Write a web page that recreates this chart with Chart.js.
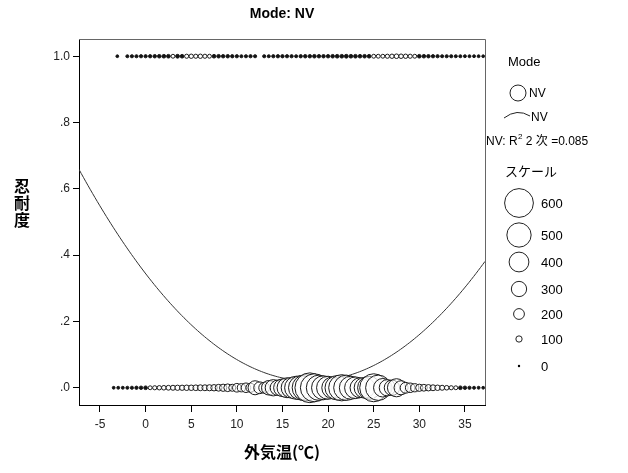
<!DOCTYPE html>
<html>
<head>
<meta charset="utf-8">
<script src="https://cdn.jsdelivr.net/npm/chart.js@4.4.1/dist/chart.umd.min.js"></script>
<style>
  html, body { margin: 0; padding: 0; background: #fff; }
  #wrap { width: 628px; height: 473px; position: relative; }
</style>
</head>
<body>
<div id="wrap"><canvas id="chart" width="628" height="473"></canvas></div>
<script>
// ticks
const xTicks = [-5, 0, 5, 10, 15, 20, 25, 30, 35];
const yTicks = [0, 0.2, 0.4, 0.6, 0.8, 1.0];
const yTickLabels = ['.0', '.2', '.4', '.6', '.8', '1.0'];

// 忍耐度 = 0 の行 (外気温と件数)
const bottomTemps = [-3.5, -3, -2.5, -2, -1.5, -1, -0.5, 0, 0.5, 1, 1.5, 2, 2.5, 3, 3.5, 4, 4.5, 5, 5.5, 6,
  6.5, 7, 7.5, 8, 8.5, 9, 9.5, 10, 10.5, 11, 11.5, 12, 12.5, 13, 13.5, 14, 14.5, 15, 15.5, 16,
  16.5, 17, 17.5, 18, 18.5, 19, 19.5, 20, 20.5, 21, 21.5, 22, 22.5, 23, 23.5, 24, 24.5, 25, 25.5, 26,
  26.5, 27, 27.5, 28, 28.5, 29, 29.5, 30, 30.5, 31, 31.5, 32, 32.5, 33, 33.5, 34, 34.5, 35, 35.5, 36,
  36.5, 37];
const bottomCounts = [0, 2, 3, 5, 8, 12, 15, 20, 25, 30, 35, 40, 45, 50, 55, 55, 60, 60, 65, 70,
  70, 75, 80, 90, 100, 110, 95, 130, 120, 150, 140, 250, 200, 180, 260, 300, 280, 330, 380, 400,
  450, 480, 520, 600, 560, 500, 470, 450, 420, 480, 520, 500, 450, 420, 380, 400, 450, 560, 500, 350,
  300, 280, 340, 250, 180, 150, 120, 100, 90, 80, 70, 60, 50, 40, 30, 25, 20, 15, 10, 5,
  3, 0];

// 忍耐度 = 1 の行
const topTemps = [-3.1, -2, -1.5, -1, -0.5, 0, 0.5, 1, 1.5, 2, 2.5, 3, 3.5, 4, 4.5, 5, 5.5, 6, 6.5, 7,
  7.5, 8, 8.5, 9, 9.5, 10, 10.5, 11, 11.5, 12, 13, 13.5, 14, 14.5, 15, 15.5, 16, 16.5, 17, 17.5,
  18, 18.5, 19, 19.5, 20, 20.5, 21, 21.5, 22, 22.5, 23, 23.5, 24, 24.5, 25, 25.5, 26, 26.5, 27, 27.5,
  28, 28.5, 29, 29.5, 30, 30.5, 31, 31.5, 32, 32.5, 33, 33.5, 34, 34.5, 35, 35.5, 36, 36.5, 37];
const topCounts = [0, 5, 8, 8, 10, 10, 12, 15, 18, 20, 20, 25, 22, 20, 30, 35, 30, 35, 30, 25,
  20, 18, 15, 15, 12, 10, 6, 8, 10, 8, 8, 6, 10, 12, 12, 10, 10, 6, 12, 15,
  15, 18, 15, 15, 15, 18, 20, 20, 22, 20, 20, 18, 18, 20, 25, 25, 25, 30, 35, 40,
  38, 35, 30, 25, 20, 18, 15, 12, 10, 6, 8, 8, 5, 5, 3, 3, 2, 2, 0];

// 2 次回帰 (R2 = 0.085)
const fitA = 0.00099, fitH = 18.1, fitK = 0.02;
const xMin = -7.3, xMax = 37.2;

// 凡例のスケール
const scaleValues = [600, 500, 400, 300, 200, 100, 0];

function sizeToRadius(v) {
  return 1.4 + 0.0225 * v;
}

const fontStack = '"Liberation Sans", Arial, "Noto Sans CJK JP", sans-serif';

const bubbleData = [];
bottomTemps.forEach((t, i) => bubbleData.push({ x: t, y: 0, r: sizeToRadius(bottomCounts[i]) }));
topTemps.forEach((t, i) => bubbleData.push({ x: t, y: 1, r: sizeToRadius(topCounts[i]) }));

const curveData = [];
for (let t = xMin; t <= xMax + 0.001; t += 0.25) {
  curveData.push({ x: t, y: fitA * (t - fitH) * (t - fitH) + fitK });
}

// タイトル・凡例・枠
const decorations = {
  id: 'decorations',
  afterDraw(chart) {
    const ctx = chart.ctx;
    const a = chart.chartArea;
    ctx.save();

    // 枠 (上・右)
    ctx.strokeStyle = '#666';
    ctx.lineWidth = 1;
    ctx.beginPath();
    ctx.moveTo(a.left, a.top + 0.5);
    ctx.lineTo(a.right + 0.5, a.top + 0.5);
    ctx.lineTo(a.right + 0.5, a.bottom);
    ctx.stroke();

    ctx.fillStyle = '#000';
    ctx.textBaseline = 'middle';

    // タイトル
    ctx.textAlign = 'center';
    ctx.font = 'bold 14px ' + fontStack;
    ctx.fillText('Mode: NV', (a.left + a.right) / 2, 14);

    // 軸タイトル
    ctx.font = 'bold 16px "Noto Sans CJK JP", sans-serif';
    ctx.fillText('外気温(℃)', (a.left + a.right) / 2, 452);
    ['忍', '耐', '度'].forEach((c, i) => ctx.fillText(c, 22, 186 + i * 17));

    // 凡例
    ctx.textAlign = 'left';
    ctx.font = '13px ' + fontStack;
    ctx.fillText('Mode', 508, 62);

    ctx.strokeStyle = '#222';
    ctx.beginPath();
    ctx.arc(518, 93, 8, 0, Math.PI * 2);
    ctx.stroke();
    ctx.font = '12px ' + fontStack;
    ctx.fillText('NV', 529, 94);

    ctx.beginPath();
    ctx.moveTo(504, 118);
    ctx.quadraticCurveTo(517, 108, 530, 116);
    ctx.stroke();
    ctx.fillText('NV', 531, 118);

    ctx.fillText('NV: R', 486, 142);
    let w = ctx.measureText('NV: R').width;
    ctx.font = '8px ' + fontStack;
    ctx.fillText('2', 486 + w + 0.5, 137);
    const w2 = ctx.measureText('2').width;
    ctx.font = '12px ' + fontStack;
    ctx.fillText(' 2 次 =0.085', 486 + w + w2 + 0.5, 142);

    ctx.font = '13px "Noto Sans CJK JP", sans-serif';
    ctx.fillText('スケール', 505, 171);

    const rowsY = [203, 235, 262, 289, 314, 339, 366];
    ctx.font = '13px ' + fontStack;
    scaleValues.forEach((v, i) => {
      const r = sizeToRadius(v) - 0.5;
      ctx.beginPath();
      ctx.arc(519, rowsY[i], Math.max(r, 1.2), 0, Math.PI * 2);
      if (v === 0) {
        ctx.fillStyle = '#000';
        ctx.fill();
      } else {
        ctx.stroke();
      }
      ctx.fillStyle = '#000';
      ctx.fillText(String(v), 541, rowsY[i] + 1);
    });

    ctx.restore();
  }
};

new Chart(document.getElementById('chart'), {
  type: 'bubble',
  data: {
    datasets: [
      {
        type: 'line',
        label: 'NV fit',
        data: curveData,
        borderColor: '#333',
        borderWidth: 1,
        pointRadius: 0,
        fill: false,
        tension: 0,
        order: 2
      },
      {
        label: 'NV',
        data: bubbleData,
        backgroundColor: c => (c.raw && c.raw.r < 1.9 ? '#111' : 'rgba(255,255,255,0.55)'),
        borderColor: '#1a1a1a',
        borderWidth: 1,
        hoverRadius: 0,
        order: 1
      }
    ]
  },
  options: {
    responsive: false,
    animation: false,
    layout: { padding: { left: 0, top: 39, right: 143, bottom: 0 } },
    plugins: {
      legend: { display: false },
      title: { display: false },
      tooltip: { enabled: false }
    },
    scales: {
      x: {
        type: 'linear',
        min: xMin,
        max: xMax,
        afterFit: s => { s.height = 68; },
        afterBuildTicks: s => { s.ticks = xTicks.map(v => ({ value: v })); },
        grid: { drawOnChartArea: false, tickLength: 7, color: '#000', tickWidth: 1 },
        border: { display: true, color: '#000', width: 1 },
        ticks: {
          padding: 5,
          color: '#222',
          font: { family: fontStack, size: 12 },
          callback: v => String(v)
        }
      },
      y: {
        type: 'linear',
        min: -0.052,
        max: 1.052,
        afterFit: s => { s.width = 79; },
        afterBuildTicks: s => { s.ticks = yTicks.map(v => ({ value: v })); },
        grid: { drawOnChartArea: false, tickLength: 6, color: '#000', tickWidth: 1 },
        border: { display: true, color: '#000', width: 1 },
        ticks: {
          padding: 3,
          color: '#222',
          font: { family: fontStack, size: 12 },
          callback: v => yTickLabels[yTicks.findIndex(t => Math.abs(t - v) < 1e-6)]
        }
      }
    }
  },
  plugins: [decorations]
});
</script>
</body>
</html>
